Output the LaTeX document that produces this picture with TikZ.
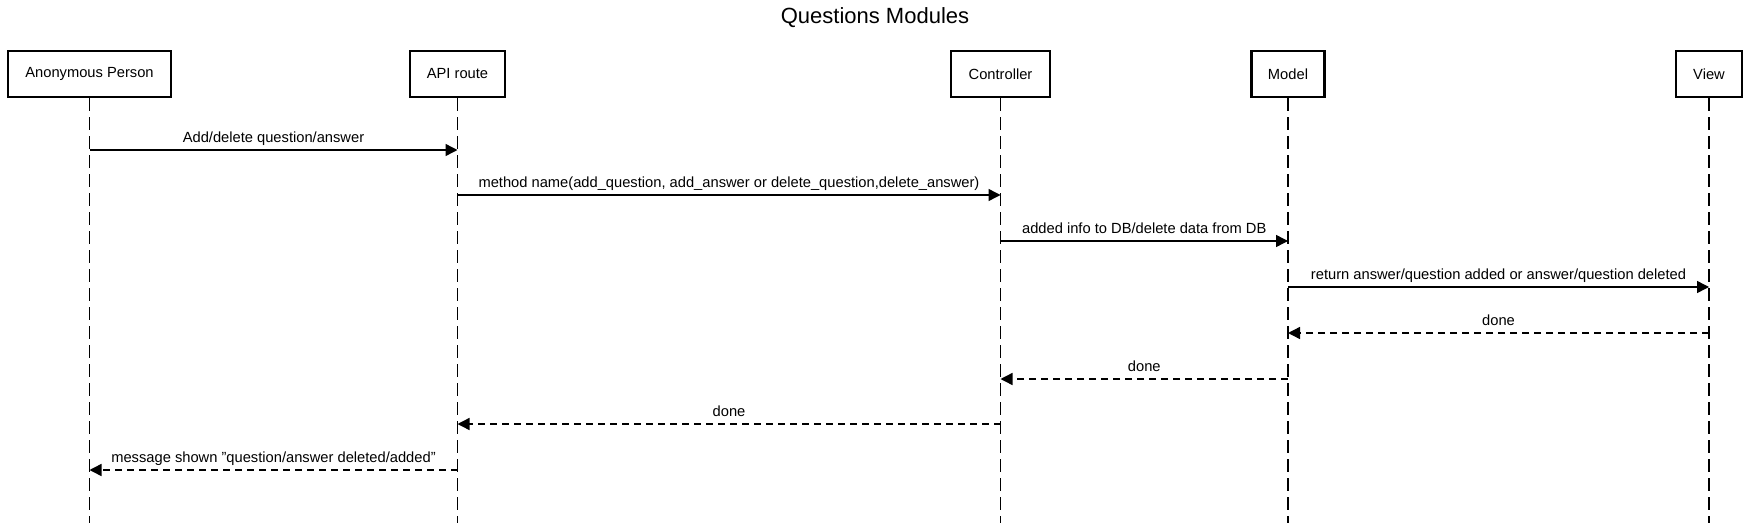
\documentclass[tikz,border=0pt]{standalone}
\usepackage{fontspec}
\setmainfont{Liberation Sans}
\usetikzlibrary{arrows.meta}
\begin{document}
\begin{tikzpicture}[x=1pt,y=-1pt,
 actor/.style={draw, line width=2.8pt, minimum height=46pt, inner sep=0pt, font=\fontsize{14.7}{16}\selectfont},
 life/.style={line width=1.4pt, dash pattern=on 13pt off 6pt},
 msg/.style={line width=1.4pt, -{Triangle[length=12pt,width=12pt]}},
 ret/.style={msg, dash pattern=on 7pt off 5pt},
 lbl/.style={font=\fontsize{14.7}{16}\selectfont, anchor=base, yshift=8pt, inner sep=0pt}]
\useasboundingbox[fill=white] (0,0) rectangle (1751,527);
\node[font=\fontsize{22}{26}\selectfont] (title) at (875,18) {Questions Modules};
\node[actor, minimum width=163pt] (ap) at (89.5,74) {Anonymous Person};
\node[actor, minimum width=95pt] (api) at (457.5,74) {API route};
\node[actor, minimum width=99pt] (ctl) at (1000.5,74) {Controller};
\node[actor, minimum width=73pt] (mdl) at (1288,74) {Model};
\node[actor, minimum width=66pt] (view) at (1709,74) {View};
\coordinate (bottom) at (0,523);
\foreach \n in {ap,api,ctl,mdl,view}{
  \draw[life] (\n.south) -- (\n.south |- bottom);
}
\coordinate (m1) at (0,150);
\coordinate (m2) at (0,195);
\coordinate (m3) at (0,241);
\coordinate (m4) at (0,287);
\coordinate (m5) at (0,333);
\coordinate (m6) at (0,379);
\coordinate (m7) at (0,424);
\coordinate (m8) at (0,470);
\draw[msg] (ap |- m1) -- node[lbl]{Add/delete question/answer} (api |- m1);
\draw[msg] (api |- m2) -- node[lbl]{method name(add\_question, add\_answer or delete\_question,delete\_answer)} (ctl |- m2);
\draw[msg] (ctl |- m3) -- node[lbl]{added info to DB/delete data from DB} (mdl |- m3);
\draw[msg] (mdl |- m4) -- node[lbl]{return answer/question added or answer/question deleted} (view |- m4);
\draw[ret] (view |- m5) -- node[lbl]{done} (mdl |- m5);
\draw[ret] (mdl |- m6) -- node[lbl]{done} (ctl |- m6);
\draw[ret] (ctl |- m7) -- node[lbl]{done} (api |- m7);
\draw[ret] (api |- m8) -- node[lbl]{message shown \symbol{34}question/answer deleted/added\symbol{34}} (ap |- m8);
\end{tikzpicture}
\end{document}
